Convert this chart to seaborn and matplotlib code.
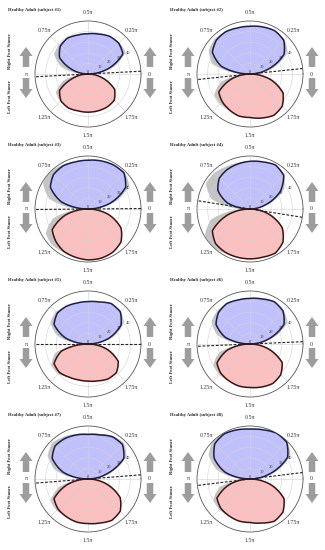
import numpy as np
import matplotlib
matplotlib.use('Agg')
import matplotlib.pyplot as plt
import seaborn as sns
from matplotlib.patches import FancyArrow

sns.set_style('white')
plt.rcParams['font.family'] = ['Liberation Serif', 'DejaVu Serif']

# ---------------- data ----------------
subjects = ['Healthy Adult (subject #1)', 'Healthy Adult (subject #2)',
            'Healthy Adult (subject #3)', 'Healthy Adult (subject #4)',
            'Healthy Adult (subject #5)', 'Healthy Adult (subject #6)',
            'Healthy Adult (subject #7)', 'Healthy Adult (subject #8)']

top_angles_deg = [0, 15, 30, 45, 60, 75, 90, 105, 120, 135, 150, 165, 180]
bottom_angles_deg = [180, 195, 210, 225, 240, 255, 270, 285, 300, 315, 330, 345, 360]

right_stance = [
    [0, 20, 38, 41, 41, 39, 38, 38, 39, 37, 31, 15, 0],
    [0, 18, 37, 45, 47, 46, 45, 45, 46, 45, 41, 28, 0],
    [0, 22, 41, 48, 48, 47, 46, 46, 47, 46, 41, 26, 0],
    [0, 15, 33, 45, 48, 46, 45, 44, 43, 41, 35, 22, 0],
    [0, 20, 36, 43, 44, 41, 40, 40, 41, 41, 37, 22, 0],
    [0, 18, 37, 44, 46, 44, 43, 43, 44, 42, 37, 24, 0],
    [0, 18, 39, 46, 46, 43, 42, 43, 44, 44, 39, 24, 0],
    [0, 20, 41, 49, 50, 48, 47, 48, 49, 47, 39, 24, 0],
]
left_stance = [
    [0, 14, 31, 36, 37, 36, 36, 36, 36, 35, 29, 14, 0],
    [0, 18, 34, 37, 39, 41, 41, 43, 45, 43, 36, 20, 0],
    [0, 22, 39, 43, 46, 47, 48, 48, 47, 44, 36, 20, 0],
    [0, 22, 41, 46, 47, 47, 47, 47, 48, 44, 35, 18, 0],
    [0, 26, 37, 38, 36, 35, 35, 36, 38, 38, 33, 18, 0],
    [0, 22, 36, 39, 40, 41, 41, 42, 43, 41, 35, 18, 0],
    [0, 20, 37, 40, 41, 42, 42, 43, 45, 43, 35, 18, 0],
    [0, 20, 36, 39, 40, 41, 41, 43, 46, 44, 37, 20, 0],
]
right_spread = [
    [0, 25, 41, 42, 41, 39, 38, 38, 39, 39, 37, 26, 5],
    [0, 23, 41, 46, 47, 46, 45, 45, 46, 47, 45, 37, 7],
    [0, 27, 45, 49, 48, 47, 46, 46, 48, 50, 49, 38, 9],
    [0, 19, 37, 46, 48, 46, 45, 45, 46, 48, 48, 38, 9],
    [0, 24, 39, 44, 44, 41, 40, 40, 41, 43, 41, 30, 5],
    [0, 23, 41, 45, 46, 44, 43, 43, 44, 44, 42, 32, 5],
    [0, 22, 42, 48, 47, 44, 43, 44, 46, 48, 44, 32, 6],
    [0, 24, 44, 50, 50, 48, 47, 48, 49, 50, 45, 32, 6],
]
left_spread = [
    [0, 24, 35, 37, 36, 35, 35, 35, 35, 34, 29, 15, 0],
    [0, 28, 39, 40, 39, 40, 40, 42, 44, 43, 37, 23, 0],
    [3, 34, 46, 48, 47, 47, 47, 47, 46, 43, 36, 21, 0],
    [5, 38, 49, 50, 48, 47, 46, 46, 47, 44, 36, 21, 0],
    [0, 32, 40, 40, 36, 35, 35, 36, 38, 38, 34, 21, 0],
    [0, 30, 40, 41, 40, 40, 40, 41, 42, 41, 36, 21, 0],
    [0, 28, 41, 42, 41, 42, 42, 43, 45, 43, 36, 21, 0],
    [0, 30, 40, 41, 40, 41, 41, 42, 45, 44, 38, 23, 0],
]
split_angle_deg = [3, 6, 0.5, -9, 0, 2.5, 4.5, 7]

theta_tick_labels = ['0', '0.25\u03c0', '0.5\u03c0', '0.75\u03c0', '\u03c0',
                     '1.25\u03c0', '1.5\u03c0', '1.75\u03c0']
r_ticks = [10, 20, 30, 40]
r_max = 50

# ---------------- layout ----------------
W, H = 325, 550
fig = plt.figure(figsize=(W / 100, H / 100), dpi=100)
fig.patch.set_facecolor('white')

RAD = 53
BLUE_FILL = '#c0c0fc'
RED_FILL = '#fcc0c0'
BLUE_EDGE = '#1d1d45'
RED_EDGE = '#3a1414'
GREY = '#c4c4c4'
ARROW = '#9d9d9d'


def curved(artist, steps=12):
    artist.get_path()._interpolation_steps = steps


def arrow(x_px, y_base_px, up):
    length = 20
    dy = length if up else -length
    a = FancyArrow(x_px / 100, (H - y_base_px) / 100, 0, dy / 100,
                   width=6.5 / 100, head_width=13 / 100, head_length=9 / 100,
                   length_includes_head=True, color=ARROW, lw=0,
                   transform=fig.dpi_scale_trans)
    fig.add_artist(a)


for i in range(8):
    row, col = divmod(i, 2)
    cx = 88 + 162 * col
    cy = 74 + 135 * row
    ax = fig.add_axes([(cx - RAD) / W, 1 - (cy + RAD) / H, 2 * RAD / W, 2 * RAD / H],
                      projection='polar')
    th_top = np.deg2rad(top_angles_deg)
    th_bot = np.deg2rad(bottom_angles_deg)

    for th, rr, fc in [(th_top, right_spread[i], GREY), (th_bot, left_spread[i], GREY),
                       (th_top, right_stance[i], BLUE_FILL), (th_bot, left_stance[i], RED_FILL)]:
        for p in ax.fill(th, rr, color=fc, lw=0, zorder=1):
            curved(p)

    df_top = {'theta': th_top, 'r': right_stance[i]}
    sns.lineplot(x='theta', y='r', data=df_top, ax=ax, estimator=None, sort=False,
                 color=BLUE_EDGE, lw=1.1, zorder=3)
    curved(ax.lines[-1])
    df_bot = {'theta': th_bot, 'r': left_stance[i]}
    sns.lineplot(x='theta', y='r', data=df_bot, ax=ax, estimator=None, sort=False,
                 color=RED_EDGE, lw=1.1, zorder=3)
    curved(ax.lines[-1])

    a = np.deg2rad(split_angle_deg[i])
    sns.lineplot(x=[a, a, a + np.pi, a + np.pi], y=[r_max, 0, 0, r_max], ax=ax,
                 estimator=None, sort=False, color='#222222', lw=0.8, zorder=4)
    ax.lines[-1].set_linestyle((0, (2.5, 1.5)))

    ax.set_ylim(0, r_max)
    ax.set_xticks(np.deg2rad(np.arange(0, 360, 45)))
    ax.set_xticklabels(theta_tick_labels, fontsize=4.2, color='#333333')
    ax.set_yticks(r_ticks)
    ax.set_yticklabels([str(v) for v in r_ticks], fontsize=3.2, color='#333333')
    ax.set_rlabel_position(27)
    ax.text(0, 0, '0', fontsize=3.2, color='#333333', ha='center', va='bottom', zorder=5)
    ax.tick_params(axis='x', pad=-4.5)
    ax.set_xlabel('')
    ax.set_ylabel('')
    ax.set_axisbelow(False)
    ax.grid(True, color='#d2d2d2', lw=0.4)
    ax.spines['polar'].set_color('#555555')
    ax.spines['polar'].set_linewidth(0.6)
    ax.set_facecolor('white')

    # title and stance labels
    fig.text((cx - 80) / W, 1 - (cy - 64) / H, subjects[i], fontsize=3.3,
             fontweight='bold', ha='left', va='center', color='#222222')
    fig.text((cx - 78) / W, 1 - (cy - 23) / H, 'Right Foot Stance', fontsize=3.3,
             fontweight='bold', rotation=90, ha='center', va='center', color='#222222')
    fig.text((cx - 78) / W, 1 - (cy + 23) / H, 'Left Foot Stance', fontsize=3.3,
             fontweight='bold', rotation=90, ha='center', va='center', color='#222222')

    for ax_x in (cx - 62, cx + 62):
        arrow(ax_x, cy - 7, True)
        arrow(ax_x, cy + 4, False)

fig.savefig('out.png', dpi=100, facecolor='white')
